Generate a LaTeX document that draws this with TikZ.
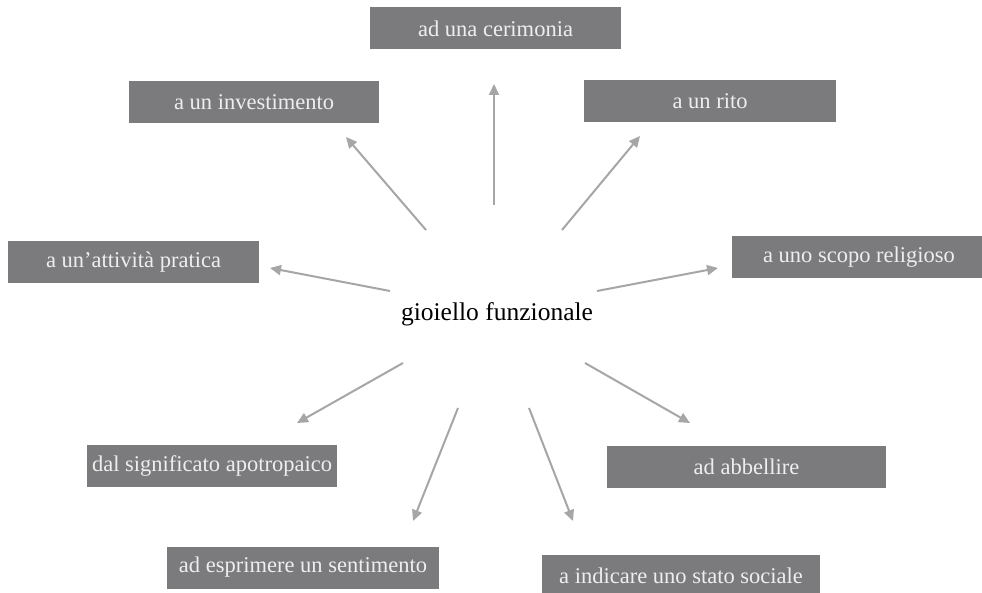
\documentclass[tikz,border=0pt]{standalone}
\usepackage{fontspec}
\setmainfont{Liberation Serif}
\usetikzlibrary{arrows.meta}
\definecolor{boxgray}{HTML}{7B7B7E}
\definecolor{boxtext}{HTML}{EEEEEE}
\definecolor{arrgray}{HTML}{A6A6A6}
\tikzset{
  labelbox/.style={fill=boxgray, text=boxtext, inner sep=0pt, minimum height=42pt,
    font=\fontsize{22.5}{25}\selectfont},
  spoke/.style={draw=arrgray, line width=2pt,
    -{Triangle[length=11pt,width=10pt]}, shorten >=0pt},
}
\begin{document}
\begin{tikzpicture}[x=1pt,y=-1pt]
\useasboundingbox (0,0) rectangle (982,593);
\fill[white] (0,0) rectangle (982,593);
\clip (0,0) rectangle (982,593);

\node (c) at (497,314) {\fontsize{25.5}{28}\selectfont gioiello funzionale};

\node[labelbox, minimum width=251pt] (cer) at (495.5,28.5) {ad una cerimonia};
\node[labelbox, minimum width=250pt] (inv) at (254,102) {a un investimento};
\node[labelbox, minimum width=252pt] (rito) at (710,101) {a un rito};
\node[labelbox, minimum width=251pt] (att) at (133.5,262.5) {a un’attività pratica};
\node[labelbox, minimum width=254pt] (scopo) at (859,257) {a uno scopo religioso};
\node[labelbox, minimum width=250pt] (apo) at (212,466) {dal significato apotropaico};
\node[labelbox, minimum width=279pt] (abb) at (746.5,466.5) {ad abbellire};
\node[labelbox, minimum width=272pt] (sent) at (303,567.5) {ad esprimere un sentimento};
\node[labelbox, minimum width=278pt] (stato) at (681,576) {a indicare uno stato sociale};

\coordinate (s1) at (494,205); \coordinate (t1) at (494,84);
\coordinate (s2) at (562,230); \coordinate (t2) at (640,136);
\coordinate (s3) at (426,230); \coordinate (t3) at (346,137);
\coordinate (s4) at (390,291); \coordinate (t4) at (270,268);
\coordinate (s5) at (597,291); \coordinate (t5) at (718,268);
\coordinate (s6) at (403,363); \coordinate (t6) at (297,423);
\coordinate (s7) at (585,363); \coordinate (t7) at (690,423);
\coordinate (s8) at (458,408); \coordinate (t8) at (413,521);
\coordinate (s9) at (529,408); \coordinate (t9) at (573,521);

\foreach \i in {1,...,9} {\draw[spoke] (s\i) -- (t\i);}
\end{tikzpicture}
\end{document}
